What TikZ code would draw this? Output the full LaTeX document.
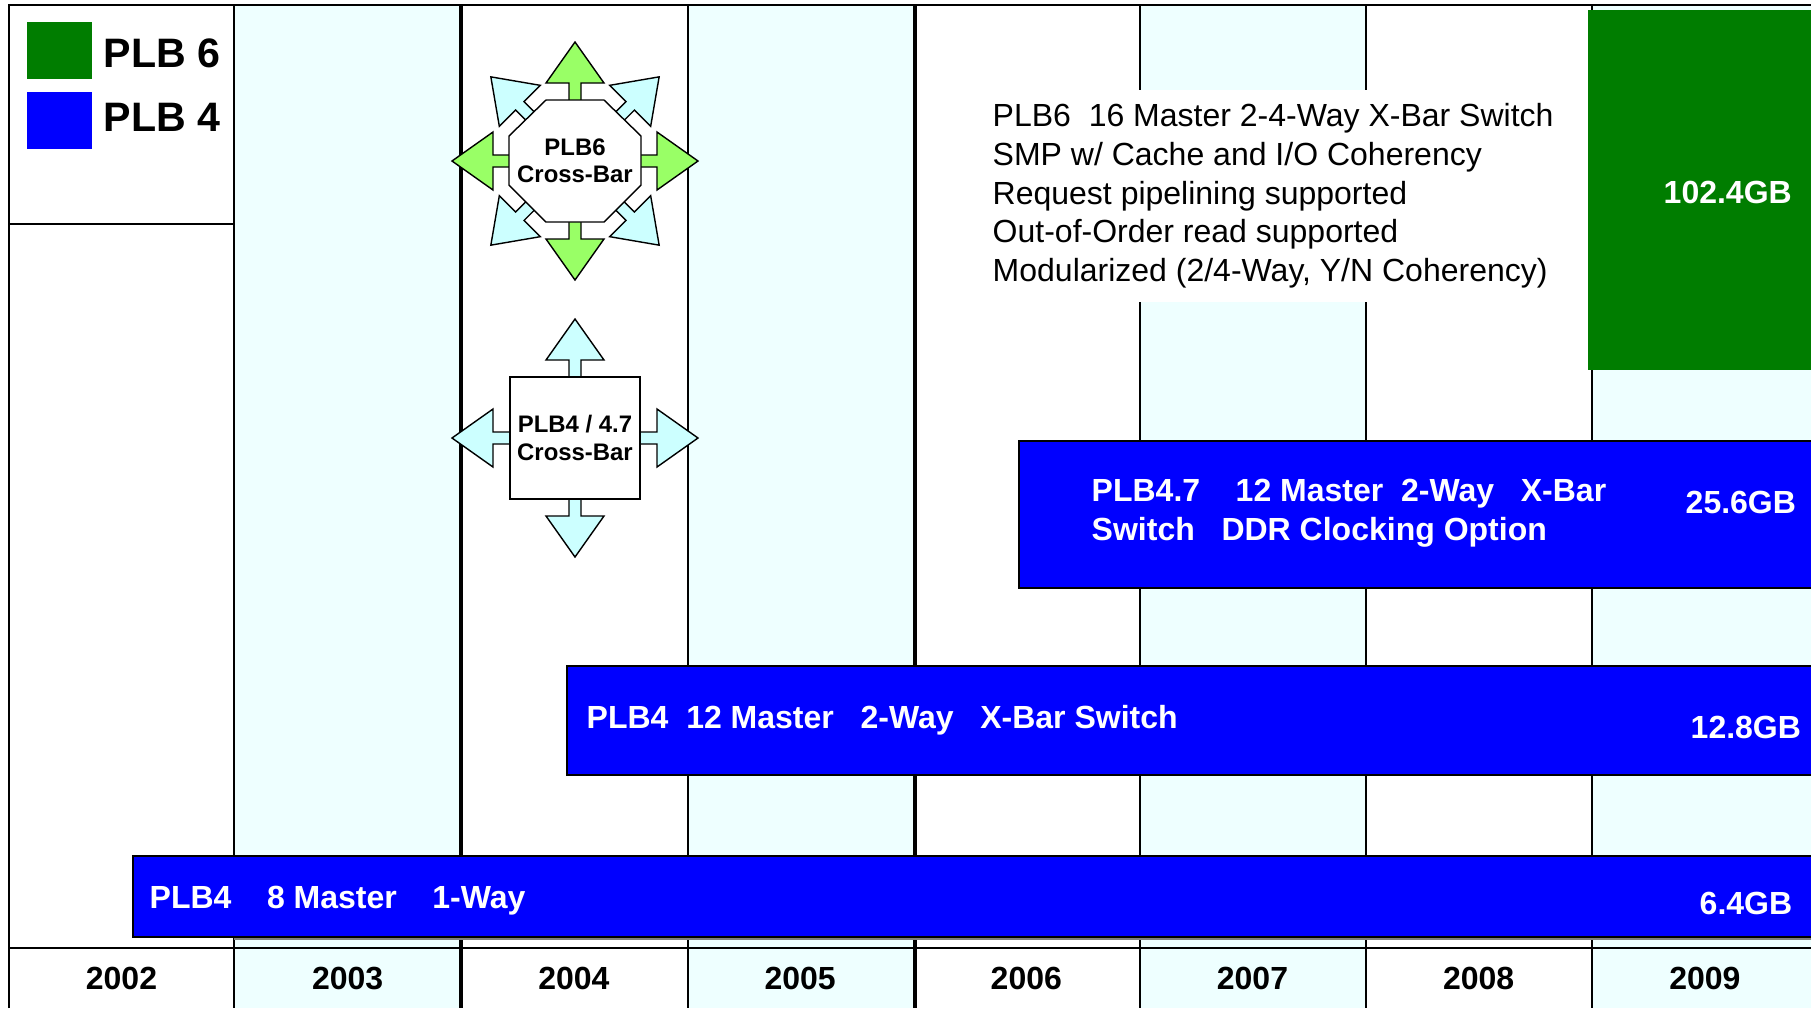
\documentclass[tikz,border=0pt]{standalone}
\usepackage[svgnames]{xcolor}
\usepackage{fontspec}
\setmainfont{Liberation Sans}
\usepackage{tikz}

\definecolor{plbgreen}{RGB}{0,125,0}
\definecolor{plbblue}{RGB}{0,0,255}
\definecolor{yearcyan}{RGB}{238,255,255}
\definecolor{arrowgreen}{RGB}{153,255,102}
\definecolor{arrowcyan}{RGB}{204,255,255}

\begin{document}
\begin{tikzpicture}[x=0.01cm, y=-0.01cm]
\tikzset{
  gridline/.style={line width=0.7pt},
  bar/.style={draw=black, line width=0.6pt, fill=plbblue},
  bartext/.style={text=white, font=\fontsize{9.1}{11.2}\selectfont\bfseries, inner sep=0pt},
  desc/.style={font=\fontsize{9.1}{11}\selectfont, align=left, fill=white, inner xsep=0.17cm, inner ysep=0.14cm},
  yeartext/.style={font=\fontsize{9.1}{11}\selectfont\bfseries, inner sep=0pt, anchor=base},
  legtext/.style={font=\fontsize{11.7}{14}\selectfont\bfseries, inner sep=0pt, anchor=base west},
  xbtext/.style={font=\fontsize{6.8}{7.8}\selectfont\bfseries, align=center},
  xbarrow/.style={draw=black, line width=0.4pt, line join=miter},
}

\useasboundingbox (0,0) rectangle (1811,1008);
\clip (0,0) rectangle (1811,1008);

% year columns
\foreach \xa/\xb in {234/461, 688/915, 1140/1366, 1592/1830}
  \fill[yearcyan] (\xa,5) rectangle (\xb,1008);
\foreach \xa in {234,688,1140,1366,1592}
  \draw[gridline] (\xa,5) -- (\xa,1008);
\foreach \xa in {461,915}
  \draw[gridline, line width=0.9pt] (\xa,5) -- (\xa,1008);
\draw[gridline] (9,1008) -- (9,5) -- (1830,5);
\draw[gridline] (9,224) -- (234,224);
\draw[gridline] (9,948) -- (1830,948);
\draw[gray, line width=0.4pt] (234,939) -- (1830,939);

\foreach[count=\k from 0] \yr in {2002,...,2009}
  \node[yeartext] (y\yr) at ({121.5+226.2*\k}, 989.5) {\yr};

% legend
\fill[plbgreen] (27,22) rectangle (92,79);
\fill[plbblue] (27,92) rectangle (92,149);
\node[legtext] (leg6) at (103,67) {PLB 6};
\node[legtext] (leg4) at (103,131) {PLB 4};

% bars
\draw[bar] (133,856) rectangle (1830,937);
\draw[bar] (567,666) rectangle (1830,775);
\draw[bar] (1019,441) rectangle (1830,588);
\fill[plbgreen] (1588,10) rectangle (1830,370);

\node[bartext, anchor=base west] (plb4one) at (149,908) {PLB4~~~~8 Master~~~~1-Way};
\node[bartext, anchor=base west] (bw64) at (1699,914) {6.4GB};
\node[bartext, anchor=base west] (plb4two) at (586,728) {PLB4~~12 Master~~~2-Way~~~X-Bar Switch};
\node[bartext, anchor=base west] (bw128) at (1690,738) {12.8GB};
\node[bartext, anchor=west, align=left] (plb47) at (1091,513) {PLB4.7~~~~12 Master~~2-Way~~~X-Bar\\Switch~~~DDR Clocking Option};
\node[bartext, anchor=base west] (bw256) at (1685,513) {25.6GB};
\node[bartext, anchor=base west] (bw1024) at (1663,203) {102.4GB};

\node[desc, anchor=west] (plb6desc) at (975,196) {PLB6~~16 Master 2-4-Way X-Bar Switch\\SMP w/ Cache and I/O Coherency\\Request pipelining supported\\Out-of-Order read supported\\Modularized (2/4-Way, Y/N Coherency)};

% PLB6 cross-bar
\begin{scope}[shift={(575,161)}]
  \foreach \a/\r/\c in {0/123/arrowgreen, 45/119/arrowcyan, 90/119/arrowgreen, 135/119/arrowcyan, 180/123/arrowgreen, 225/119/arrowcyan, 270/119/arrowgreen, 315/119/arrowcyan}
    \draw[xbarrow, fill=\c, rotate=\a] (50,-6) -- ({\r-41},-6) -- ({\r-41},-29) -- (\r,0) -- ({\r-41},29) -- ({\r-41},6) -- (50,6) -- cycle;
  \draw[xbarrow, fill=white] (-66,-25) -- (-29,-61) -- (29,-61) -- (66,-25) -- (66,24) -- (29,61) -- (-29,61) -- (-66,24) -- cycle;
  \node[xbtext] (xbar6) at (0,0) {PLB6\\Cross-Bar};
\end{scope}

% PLB4 cross-bar
\begin{scope}[shift={(575,438)}]
  \foreach \a/\r in {0/123, 90/119, 180/123, 270/119}
    \draw[xbarrow, fill=arrowcyan, rotate=\a] (50,-6) -- ({\r-41},-6) -- ({\r-41},-29) -- (\r,0) -- ({\r-41},29) -- ({\r-41},6) -- (50,6) -- cycle;
  \node[xbtext, draw, fill=white, line width=0.45pt, minimum width=1.3cm, minimum height=1.22cm, inner sep=0pt] (xbar4) at (0,0) {PLB4 / 4.7\\Cross-Bar};
\end{scope}

\end{tikzpicture}
\end{document}
